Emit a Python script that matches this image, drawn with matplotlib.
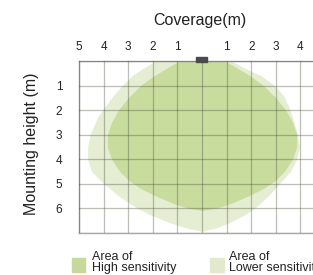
import matplotlib
matplotlib.use('Agg')
import matplotlib.pyplot as plt
from matplotlib.patches import Rectangle

plt.rcParams['font.family'] = ['Liberation Sans', 'DejaVu Sans']

# coverage zones, half-width (m) at each mounting depth (m)
high_depth = [0, 0.15, 0.3, 0.6, 1.0, 1.5, 2.0, 2.5, 3.0, 3.5, 4.0, 4.5, 4.9, 5.2, 5.5, 5.8, 6.0, 6.1]
high_half = [0.9, 1.2, 1.45, 1.95, 2.5, 3.0, 3.4, 3.68, 3.85, 3.85, 3.68, 3.35, 2.95, 2.5, 1.9, 1.2, 0.6, 0]

low_depth = [0, 0.3, 0.6, 1.0, 1.4, 1.8, 2.3, 3.0, 3.5, 4.0, 4.5, 5.0, 5.5, 6.0, 6.3, 6.6, 6.8, 6.95]
low_left = [1.9, 2.4, 2.85, 3.25, 3.6, 3.9, 4.25, 4.55, 4.65, 4.65, 4.5, 4.0, 3.4, 2.65, 2.05, 1.3, 0.7, 0]
low_right = [1.2, 1.75, 2.4, 2.95, 3.3, 3.5, 3.68, 3.88, 3.95, 3.85, 3.6, 3.15, 2.7, 2.15, 1.7, 1.1, 0.6, 0]

x_ticks = [-5, -4, -3, -2, -1, 0, 1, 2, 3, 4]
x_labels = ['5', '4', '3', '2', '1', '', '1', '2', '3', '4']
y_ticks = [1, 2, 3, 4, 5, 6]

high_col = '#c8dc9e'
low_col = '#e5eed3'

fig = plt.figure(figsize=(3.13, 2.75), dpi=100)
ax = fig.add_axes([0.2524, 0.1545, 0.786, 0.6236])

ax.fill_betweenx(low_depth, [-v for v in low_left], low_right, color=low_col, lw=0, zorder=1)
ax.fill_betweenx(high_depth, [-v for v in high_half], high_half, color=high_col, lw=0, zorder=2)

# grid
for gx in range(-5, 6):
    ax.axvline(gx, color='#3c4530', alpha=0.34, lw=0.9, zorder=3)
for gy in range(0, 8):
    ax.axhline(gy, color='#3c4530', alpha=0.34, lw=0.9, zorder=3)

# sensor
ax.add_patch(Rectangle((-0.24, -0.18), 0.46, 0.2, color='#4a4a4a', clip_on=False, zorder=5))

ax.set_xlim(-5, 5)
ax.set_ylim(7, 0)
ax.xaxis.tick_top()
ax.set_xticks(x_ticks)
ax.set_xticklabels(x_labels)
ax.set_yticks(y_ticks)
ax.tick_params(axis='x', length=0, pad=6, labelsize=8.5, colors='#222222')
ax.tick_params(axis='y', length=0, pad=12, labelsize=8.5, colors='#222222')
for s in ax.spines.values():
    s.set_color('#a8a8a8')
    s.set_linewidth(1)

fig.text(0.64, 0.927, 'Coverage(m)', ha='center', va='center', fontsize=11.5, color='#222222')
fig.text(0.102, 0.476, 'Mounting height (m)', ha='center', va='center', rotation=90,
         fontsize=11.5, color='#222222')

# legend
fig.patches.append(Rectangle((0.23, 0.011), 0.042, 0.051, color='#c6d89a', transform=fig.transFigure))
fig.patches.append(Rectangle((0.671, 0.011), 0.046, 0.051, color='#e2e9cc', transform=fig.transFigure))
fig.text(0.294, 0.045, 'Area of\nHigh sensitivity', ha='left', va='center', fontsize=9,
         linespacing=0.9, color='#222222')
fig.text(0.732, 0.045, 'Area of\nLower sensitivity', ha='left', va='center', fontsize=9,
         linespacing=0.9, color='#222222')

fig.savefig('out.png', dpi=100)
